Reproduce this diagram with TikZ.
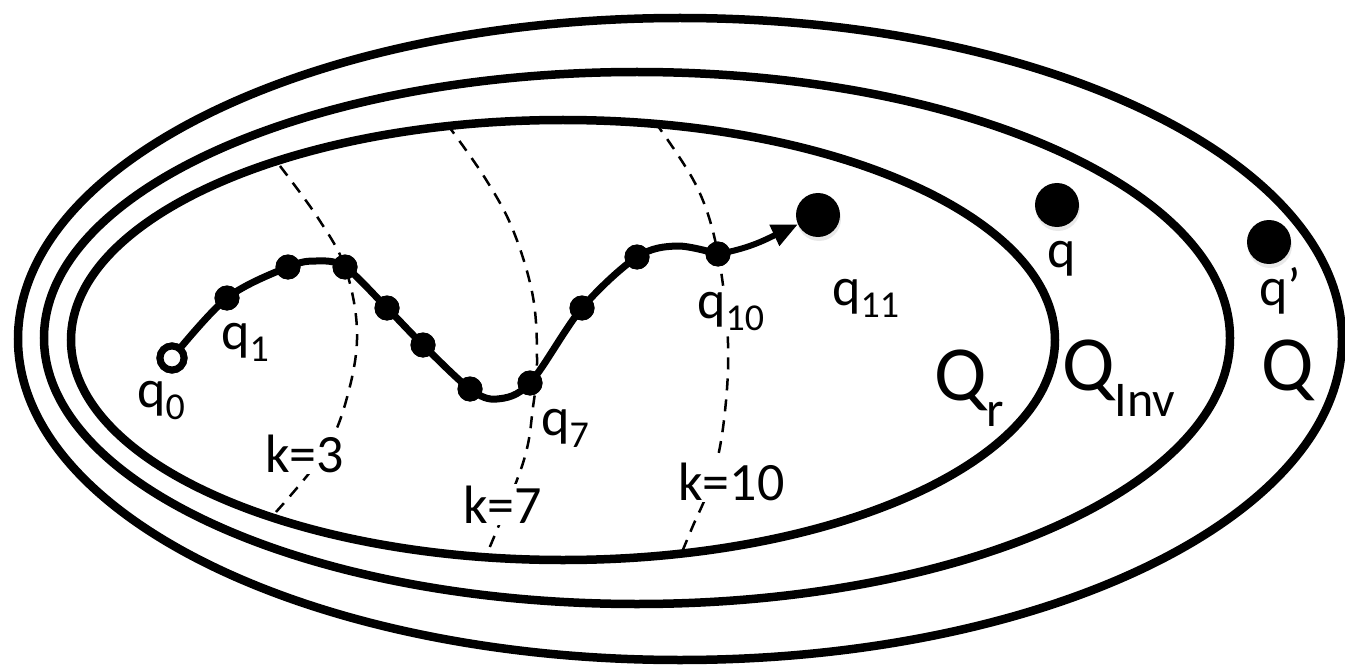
\documentclass[tikz,border=0pt]{standalone}
\usepackage{fontspec}
\setmainfont{Carlito}
\usetikzlibrary{arrows.meta,shadows}
\newcommand{\smsub}[1]{\raisebox{-12pt}{\fontsize{38}{38}\selectfont #1}}
\newcommand{\bgsub}[1]{\raisebox{-26pt}{\fontsize{50}{50}\selectfont #1}}
\begin{document}
\begin{tikzpicture}[x=1pt,y=1pt,
  region/.style={line width=8.5pt},
  kline/.style={line width=2.5pt, dash pattern=on 12pt off 9pt},
  trail/.style={line width=7pt, line join=round, line cap=round},
  pdot/.style={circle, fill=black, minimum size=25pt, inner sep=0pt},
  bigdot/.style={circle, fill=black, minimum size=44pt, inner sep=0pt,
    drop shadow={opacity=0.18, shadow xshift=1pt, shadow yshift=-4pt}},
  startdot/.style={circle, draw=black, line width=7pt, fill=white, minimum size=24pt, inner sep=0pt},
  lbl/.style={font=\fontsize{54}{54}\selectfont, inner sep=0pt, anchor=base west},
  wlbl/.style={lbl, fill=white, inner sep=2pt},
  biglbl/.style={font=\fontsize{78}{78}\selectfont, inner sep=0pt, anchor=base west},
]
\useasboundingbox (0,0) rectangle (1345,-666);

% regions
\draw[region] (680,-339) ellipse [x radius=662, y radius=321];
\draw[region] (637,-338) ellipse [x radius=593, y radius=266];
\draw[region] (563,-340) ellipse [x radius=492, y radius=220];

% level lines
\draw[kline] plot[smooth, tension=0.6] coordinates {(280,-166) (318,-218) (345,-267) (357,-330) (349,-390) (326,-450) (276,-512)};
\draw[kline] plot[smooth, tension=0.6] coordinates {(447,-124) (485,-178) (513,-230) (533,-297) (537,-363) (533,-407) (523,-463) (486,-556)};
\draw[kline] plot[smooth, tension=0.6] coordinates {(655,-122) (697,-187) (718,-254) (728,-343) (724,-420) (712,-480) (692,-528) (682,-552)};

% labels of level lines
\node[wlbl] (k3) at (263,-472) {k=3};
\node[wlbl] (k7) at (461,-523) {k=7};
\node[wlbl] (k10) at (676,-500) {k=10};

% trajectory states
\node[startdot] (q0) at (172,-358) {};
\node[pdot] (q1) at (227,-298) {};
\node[pdot] (q2) at (288,-267) {};
\node[pdot] (q3) at (345,-267) {};
\node[pdot] (q4) at (387,-308) {};
\node[pdot] (q5) at (423,-345) {};
\node[pdot] (q6) at (470,-389) {};
\node[pdot] (q7) at (530,-383) {};
\node[pdot] (q8) at (582,-308) {};
\node[pdot] (q9) at (637,-257) {};
\node[pdot] (q10) at (718,-254) {};
\node[bigdot] (q11) at (818,-215) {};
\node[bigdot] (q) at (1057,-205) {};
\node[bigdot] (qp) at (1269,-242) {};

% trajectory
\draw[trail] plot[smooth, tension=0.55] coordinates {(q0.center) (q1.center) (q2.center) (316,-261) (q3.center) (q4.center) (q5.center) (q6.center) (497,-399) (q7.center) (q8.center) (q9.center) (677,-246) (q10.center)};
\draw[line width=6pt, -{Triangle[length=26pt,width=22pt]}] (q10.center) to[out=10, in=205] (q11);

% dots on top of the trajectory
\node[startdot] at (q0) {};
\foreach \n in {q1,q2,q3,q4,q5,q6,q7,q8,q9,q10} \fill (\n) circle (12.5pt);

% state labels
\node[lbl] (l0) at (137,-407) {q\smsub{0}};
\node[lbl] (l1) at (221,-349) {q\smsub{1}};
\node[lbl] (l7) at (541,-435) {q\smsub{7}};
\node[wlbl] (l10) at (695,-318) {q\smsub{10}};
\node[lbl] (l11) at (832,-305) {q\smsub{11}};
\node[lbl] (lq) at (1047,-267) {q};
\node[lbl] (lqp) at (1259,-305) {q'};

% region labels
\node[biglbl] (Qr) at (934,-400) {Q\bgsub{r}};
\node[biglbl] (Qinv) at (1062,-390) {Q\bgsub{Inv}};
\node[biglbl] (Qall) at (1261,-390) {Q};
\end{tikzpicture}
\end{document}
